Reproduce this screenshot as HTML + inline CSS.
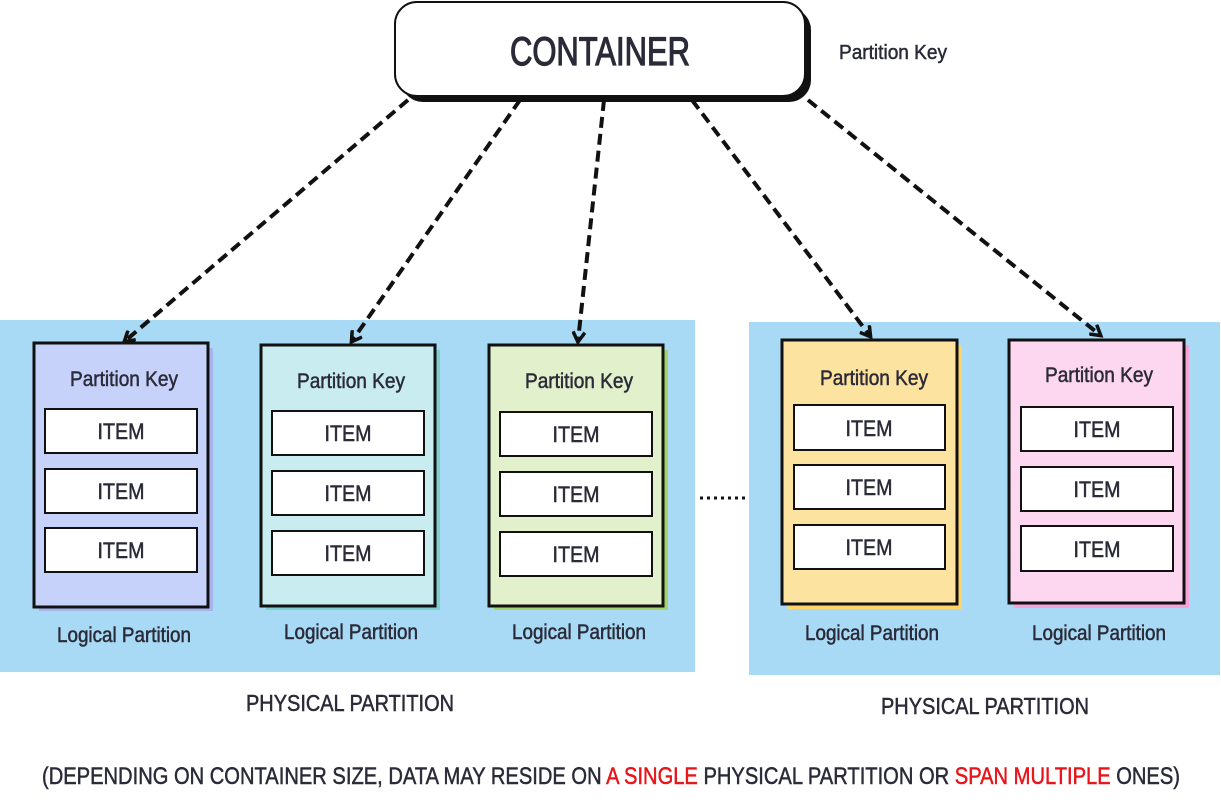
<!DOCTYPE html>
<html><head><meta charset="utf-8"><style>
html,body{margin:0;padding:0;background:#fff;}
svg{display:block;}
text{font-family:"Liberation Sans Narrow","Liberation Sans",sans-serif;fill:#2a2a38;stroke:#2a2a38;stroke-width:0.5;}
tspan.r{fill:#e8141a;stroke:#e8141a;}
</style></head><body>
<svg width="1221" height="805" viewBox="0 0 1221 805" xmlns="http://www.w3.org/2000/svg">
<defs>
<marker id="ah" markerWidth="14" markerHeight="14" refX="10" refY="7" orient="auto" markerUnits="userSpaceOnUse">
<path d="M1,1 L11,7 L1,13" fill="none" stroke="#111" stroke-width="3.5"/>
</marker>
</defs>
<rect x="0" y="320" width="695" height="352" fill="#a9daf5"/>
<rect x="749" y="322" width="471" height="353" fill="#a9daf5"/>

<rect x="401" y="8" width="410" height="94" rx="22" fill="#111"/>
<rect x="395" y="2" width="410" height="94" rx="22" fill="#fff" stroke="#111" stroke-width="2"/>
<text x="600" y="65" font-size="40" text-anchor="middle" textLength="180" lengthAdjust="spacingAndGlyphs" style="stroke-width:1.2">CONTAINER</text>
<text x="893" y="59" font-size="20" text-anchor="middle" textLength="108" lengthAdjust="spacingAndGlyphs">Partition Key</text>

<g stroke="#111" stroke-width="4" stroke-dasharray="11,6" fill="none" marker-end="url(#ah)">
<line x1="408" y1="100" x2="125" y2="341"/>
<line x1="520" y1="100" x2="352" y2="341"/>
<line x1="604" y1="100" x2="578" y2="341"/>
<line x1="692" y1="100" x2="870" y2="336"/>
<line x1="808" y1="100" x2="1100" y2="335"/>
</g>
<line x1="700" y1="498" x2="745" y2="498" stroke="#111" stroke-width="3" stroke-dasharray="3,4"/>

<g stroke="#111" stroke-width="3">
<rect x="39" y="348" width="174" height="263" fill="#a9b4ee" stroke="none"/>
<rect x="34" y="343" width="174" height="264" fill="#c7d2fb"/>
<rect x="266" y="350" width="174" height="260" fill="#7fcfcf" stroke="none"/>
<rect x="261" y="345" width="174" height="261" fill="#c8ecef"/>
<rect x="494" y="350" width="174" height="260" fill="#a5d36a" stroke="none"/>
<rect x="489" y="345" width="174" height="261" fill="#e2f0cb"/>
<rect x="787" y="345" width="175" height="264" fill="#fdd36a" stroke="none"/>
<rect x="782" y="340" width="175" height="264" fill="#fde3a0"/>
<rect x="1014" y="345" width="175" height="263" fill="#f6a3d8" stroke="none"/>
<rect x="1009" y="340" width="175" height="263" fill="#fdd7ef"/>
</g>
<g stroke="#111" stroke-width="2" fill="#fff">
<rect x="45" y="409" width="152" height="44"/><rect x="45" y="469" width="152" height="44"/><rect x="45" y="528" width="152" height="44"/>
<rect x="272" y="411" width="152" height="44"/><rect x="272" y="471" width="152" height="44"/><rect x="272" y="531" width="152" height="44"/>
<rect x="500" y="412" width="152" height="44"/><rect x="500" y="472" width="152" height="44"/><rect x="500" y="532" width="152" height="44"/>
<rect x="794" y="405" width="151" height="45"/><rect x="794" y="465" width="151" height="44"/><rect x="794" y="525" width="151" height="44"/>
<rect x="1021" y="407" width="152" height="44"/><rect x="1021" y="467" width="152" height="44"/><rect x="1021" y="526" width="152" height="45"/>
</g>
<g font-size="21" text-anchor="middle">
<text x="124" y="386" textLength="108" lengthAdjust="spacingAndGlyphs">Partition Key</text>
<text x="351" y="388" textLength="108" lengthAdjust="spacingAndGlyphs">Partition Key</text>
<text x="579" y="388" textLength="108" lengthAdjust="spacingAndGlyphs">Partition Key</text>
<text x="874" y="385" textLength="108" lengthAdjust="spacingAndGlyphs">Partition Key</text>
<text x="1099" y="382" textLength="108" lengthAdjust="spacingAndGlyphs">Partition Key</text>
<text x="124" y="642" textLength="134" lengthAdjust="spacingAndGlyphs">Logical Partition</text>
<text x="351" y="639" textLength="134" lengthAdjust="spacingAndGlyphs">Logical Partition</text>
<text x="579" y="639" textLength="134" lengthAdjust="spacingAndGlyphs">Logical Partition</text>
<text x="872" y="640" textLength="134" lengthAdjust="spacingAndGlyphs">Logical Partition</text>
<text x="1099" y="640" textLength="134" lengthAdjust="spacingAndGlyphs">Logical Partition</text>
</g>
<g font-size="22" text-anchor="middle">
<text x="121" y="439" textLength="47" lengthAdjust="spacingAndGlyphs">ITEM</text>
<text x="121" y="499" textLength="47" lengthAdjust="spacingAndGlyphs">ITEM</text>
<text x="121" y="558" textLength="47" lengthAdjust="spacingAndGlyphs">ITEM</text>
<text x="348" y="441" textLength="47" lengthAdjust="spacingAndGlyphs">ITEM</text>
<text x="348" y="501" textLength="47" lengthAdjust="spacingAndGlyphs">ITEM</text>
<text x="348" y="561" textLength="47" lengthAdjust="spacingAndGlyphs">ITEM</text>
<text x="576" y="442" textLength="47" lengthAdjust="spacingAndGlyphs">ITEM</text>
<text x="576" y="502" textLength="47" lengthAdjust="spacingAndGlyphs">ITEM</text>
<text x="576" y="562" textLength="47" lengthAdjust="spacingAndGlyphs">ITEM</text>
<text x="869" y="436" textLength="47" lengthAdjust="spacingAndGlyphs">ITEM</text>
<text x="869" y="495" textLength="47" lengthAdjust="spacingAndGlyphs">ITEM</text>
<text x="869" y="555" textLength="47" lengthAdjust="spacingAndGlyphs">ITEM</text>
<text x="1097" y="437" textLength="47" lengthAdjust="spacingAndGlyphs">ITEM</text>
<text x="1097" y="497" textLength="47" lengthAdjust="spacingAndGlyphs">ITEM</text>
<text x="1097" y="557" textLength="47" lengthAdjust="spacingAndGlyphs">ITEM</text>
</g>
<text x="350" y="711" font-size="23" text-anchor="middle" textLength="208" lengthAdjust="spacingAndGlyphs">PHYSICAL PARTITION</text>
<text x="985" y="714" font-size="23" text-anchor="middle" textLength="208" lengthAdjust="spacingAndGlyphs">PHYSICAL PARTITION</text>
<text x="42" y="784" font-size="24" textLength="1138" lengthAdjust="spacingAndGlyphs">(DEPENDING ON CONTAINER SIZE, DATA MAY RESIDE ON <tspan class="r">A SINGLE</tspan> PHYSICAL PARTITION OR <tspan class="r">SPAN MULTIPLE</tspan> ONES)</text>
</svg>
</body></html>
